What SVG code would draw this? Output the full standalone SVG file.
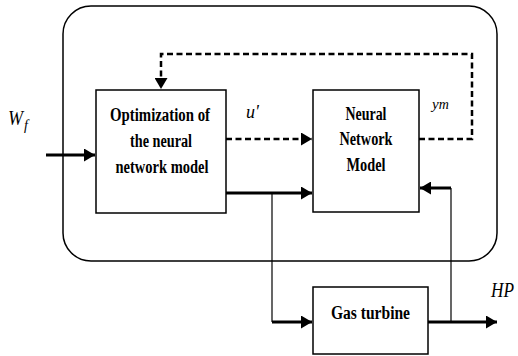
<svg xmlns="http://www.w3.org/2000/svg" width="518" height="356" viewBox="0 0 518 356">
<defs>
<marker id="ahl" markerWidth="11" markerHeight="13" refX="11" refY="6.5" orient="auto" markerUnits="userSpaceOnUse" viewBox="0 0 11 13">
<path d="M0,0 L11,6.5 L0,13 Z" fill="#000"/>
</marker>
</defs>
<rect id="boundary" x="63" y="6" width="434" height="255" rx="28" ry="28" fill="none" stroke="#000" stroke-width="1.5"/>
<g id="connectors" fill="none" stroke="#000">
<g stroke-width="3">
<path d="M46,155 L95,155" marker-end="url(#ahl)"/>
<path d="M226,193 L312,193" marker-end="url(#ahl)"/>
<path d="M272,322 L312,322" marker-end="url(#ahl)"/>
<path d="M428,322 L497,322" marker-end="url(#ahl)"/>
<path d="M451,188 L420,188" marker-end="url(#ahl)"/>
</g>
<g stroke-width="2.5" stroke-dasharray="6,3.5">
<path d="M226,139 L312,139" marker-end="url(#ahl)"/>
<path d="M419,139 L472,139 L472,54 L161,54 L161,89" marker-end="url(#ahl)"/>
</g>
<g stroke-width="1.2">
<path d="M272,193 L272,322"/>
<path d="M451,322 L451,188"/>
</g>
</g>
<g fill="#000" font-family="Liberation Serif" font-weight="bold" font-size="18" text-anchor="middle" lengthAdjust="spacingAndGlyphs">
<g id="opt">
<rect x="96" y="90" width="130" height="123" fill="#fff" stroke="#000" stroke-width="1.5"/>
<text x="160" y="121" font-family="Liberation Serif" textLength="100" lengthAdjust="spacingAndGlyphs">Optimization of</text>
<text x="161" y="147" font-family="Liberation Serif" textLength="62" lengthAdjust="spacingAndGlyphs">the neural</text>
<text x="162" y="173" font-family="Liberation Serif" textLength="93" lengthAdjust="spacingAndGlyphs">network model</text>
</g>
<g id="nn">
<rect x="313" y="90" width="106" height="122" fill="#fff" stroke="#000" stroke-width="1.5"/>
<text x="366" y="120" font-family="Liberation Serif" textLength="41" lengthAdjust="spacingAndGlyphs">Neural</text>
<text x="366" y="145" font-family="Liberation Serif" textLength="53" lengthAdjust="spacingAndGlyphs">Network</text>
<text x="366" y="171" font-family="Liberation Serif" textLength="39" lengthAdjust="spacingAndGlyphs">Model</text>
</g>
<g id="gt">
<rect x="313" y="287" width="115" height="67" fill="#fff" stroke="#000" stroke-width="1.5"/>
<text x="370.5" y="319" font-family="Liberation Serif" textLength="79" lengthAdjust="spacingAndGlyphs">Gas turbine</text>
</g>
</g>
<g id="labels" font-family="Liberation Serif" font-style="italic">
<text x="8" y="125" font-family="Liberation Serif" font-size="21" textLength="15" lengthAdjust="spacingAndGlyphs">W</text>
<text x="24" y="130" font-family="Liberation Serif" font-size="14">f</text>
<text x="246" y="118" font-family="Liberation Serif" font-size="18">u'</text>
<text x="432" y="109" font-family="Liberation Serif" font-size="15">y<tspan font-size="14">m</tspan></text>
<text x="491" y="297" font-family="Liberation Serif" font-size="20" textLength="23" lengthAdjust="spacingAndGlyphs">HP</text>
</g>
</svg>
